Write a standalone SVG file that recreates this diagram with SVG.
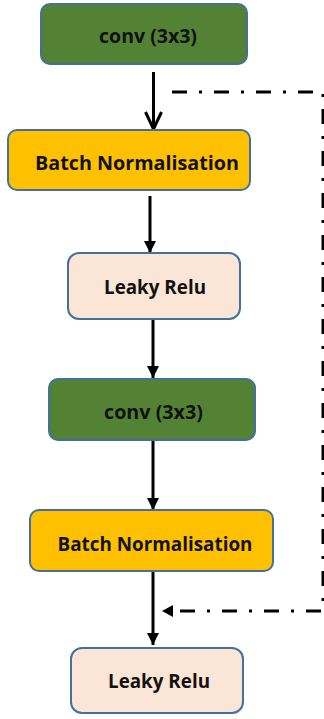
<svg xmlns="http://www.w3.org/2000/svg" width="324" height="719" viewBox="0 0 324 719">
<defs>
<style>
.box{stroke:#41719C;stroke-width:2}
.conv{fill:#548235}
.bn{fill:#FFC000}
.lr{fill:#FBE5D6}
.t{font-family:"Open Sans","Liberation Sans",sans-serif;font-weight:bold;font-size:19.5px;fill:#111;text-anchor:middle}
.ln{stroke:#000;stroke-width:3;fill:none}
.dash{stroke:#000;stroke-width:3;fill:none;stroke-dasharray:15 12 3 12}
</style>
<marker id="tri" markerUnits="userSpaceOnUse" markerWidth="12" markerHeight="12" refX="12" refY="6" orient="auto" viewBox="0 0 12 12">
<path d="M0,0 L12,6 L0,12 Z" fill="#000"/>
</marker>
<marker id="vee2" markerUnits="userSpaceOnUse" markerWidth="20" markerHeight="20" refX="19" refY="10" orient="auto" viewBox="0 0 20 20">
<path d="M1,2 L18,10 L1,18" fill="none" stroke="#000" stroke-width="3"/>
</marker>
</defs>
<g id="connectors">
<path class="ln" d="M153.5,72 V130" marker-end="url(#vee2)"/>
<path class="ln" d="M150,196 V253" marker-end="url(#tri)"/>
<path class="ln" d="M153,319 V378" marker-end="url(#tri)"/>
<path class="ln" d="M153,440 V510" marker-end="url(#tri)"/>
<path class="ln" d="M153,571 V645" marker-end="url(#tri)"/>
<path class="dash" d="M172,92 H323 V611 H175"/>
<path d="M162,611 L173,605 L173,617 Z" fill="#000"/>
</g>
<g id="conv1">
<rect class="box conv" x="41" y="4" width="206" height="60" rx="9"/>
<text class="t" x="148" y="43" textLength="98" lengthAdjust="spacingAndGlyphs">conv (3x3)</text>
</g>
<g id="bn1">
<rect class="box bn" x="8" y="130" width="242" height="60" rx="9"/>
<text class="t" x="137" y="170" textLength="204" lengthAdjust="spacingAndGlyphs">Batch Normalisation</text>
</g>
<g id="lr1">
<rect class="box lr" x="68" y="253" width="172" height="66" rx="11"/>
<text class="t" x="155" y="294" textLength="102" lengthAdjust="spacingAndGlyphs">Leaky Relu</text>
</g>
<g id="conv2">
<rect class="box conv" x="49" y="379" width="206" height="61" rx="9"/>
<text class="t" x="153.5" y="419" textLength="99" lengthAdjust="spacingAndGlyphs">conv (3x3)</text>
</g>
<g id="bn2">
<rect class="box bn" x="30" y="510" width="243" height="61" rx="9"/>
<text class="t" x="155" y="551" textLength="195" lengthAdjust="spacingAndGlyphs">Batch Normalisation</text>
</g>
<g id="lr2">
<rect class="box lr" x="71" y="648" width="172" height="65" rx="11"/>
<text class="t" x="159" y="688" textLength="102" lengthAdjust="spacingAndGlyphs">Leaky Relu</text>
</g>
</svg>
